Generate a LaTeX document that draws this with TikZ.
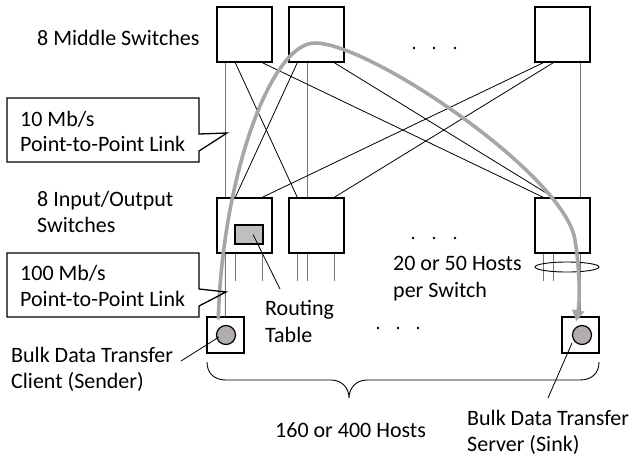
\documentclass[tikz,border=0pt]{standalone}
\usepackage{fontspec}
\setmainfont{Carlito}
\usetikzlibrary{calc,arrows.meta}
\definecolor{flowgray}{RGB}{166,166,166}
\definecolor{tablegray}{RGB}{191,191,191}
\definecolor{hostgray}{RGB}{178,174,174}
\definecolor{vgray}{RGB}{120,120,120}
\begin{document}
\begin{tikzpicture}[x=1pt,y=-1pt,
  switchbox/.style={draw,line width=1.4pt,minimum width=55pt,minimum height=55pt,inner sep=0pt},
  hostbox/.style={draw,line width=1.4pt,minimum width=37pt,minimum height=36pt,inner sep=0pt},
  hostdot/.style={draw,line width=1.2pt,fill=hostgray,circle,minimum size=19pt,inner sep=0pt},
  tablebox/.style={draw,line width=1.3pt,fill=tablegray,minimum width=28pt,minimum height=19pt,inner sep=0pt},
  lbl/.style={anchor=base west,inner sep=0pt,font=\fontsize{22}{26}\selectfont},
  diag/.style={draw,line width=0.8pt},
  vert/.style={draw,vgray,line width=1pt},
  callout/.style={draw,line width=1.3pt,line join=miter},
  pointer/.style={draw,line width=0.8pt},
  flow/.style={draw,flowgray,line width=3.6pt,-{Triangle[width=12pt,length=11pt]}}
]
\useasboundingbox (0,0) rectangle (634,459);

% switches
\node[switchbox] (m1) at (244.5,34.5) {};
\node[switchbox] (m2) at (316.5,34.5) {};
\node[switchbox] (m3) at (562.5,34.5) {};
\node[switchbox] (io1) at (244.5,225.5) {};
\node[switchbox] (io2) at (316.5,225.5) {};
\node[switchbox] (io3) at (562.5,225.5) {};

% middle-to-io links: port offsets 9,19,46
\path[vert] ($(m1.south west)+(9,0)$) -- ($(io1.north west)+(9,0)$);
\path[vert] ($(m2.south west)+(19,0)$) -- ($(io2.north west)+(19,0)$);
\path[vert] ($(m3.south west)+(46,0)$) -- ($(io3.north west)+(46,0)$);
\path[diag] ($(m1.south west)+(19,0)$) -- ($(io2.north west)+(9,0)$);
\path[diag] ($(m1.south west)+(46,0)$) -- ($(io3.north west)+(9,0)$);
\path[diag] ($(m2.south west)+(9,0)$) -- ($(io1.north west)+(19,0)$);
\path[diag] ($(m2.south west)+(46,0)$) -- ($(io3.north west)+(19,0)$);
\path[diag] ($(m3.south west)+(9,0)$) -- ($(io1.north west)+(46,0)$);
\path[diag] ($(m3.south west)+(19,0)$) -- ($(io2.north west)+(46,0)$);

% hosts
\node[hostbox] (h1) at (225.5,335) {};
\node[hostbox] (h2) at (580.5,335) {};
\node[hostdot] (c1) at (226,335) {};
\node[hostdot] (c2) at (582,335) {};

% stubs below io switches
\path[vert] ($(io1.south west)+(9,0)$) -- (h1.north);
\path[vert] ($(io1.south west)+(19,0)$) -- ++(0,27);
\path[vert] ($(io1.south west)+(46,0)$) -- ++(0,27);
\path[vert] ($(io2.south west)+(9,0)$) -- ++(0,27);
\path[vert] ($(io2.south west)+(19,0)$) -- ++(0,27);
\path[vert] ($(io2.south west)+(46,0)$) -- ++(0,27);
\path[vert] ($(io3.south west)+(9,0)$) -- ++(0,27);
\path[vert] ($(io3.south west)+(19,0)$) -- ++(0,27);
\path[vert] ($(io3.south west)+(46,0)$) -- ($(h2.north west)+(19,0)$);

% routing table
\node[tablebox] (rt) at (249,234.5) {};

% hosts-per-switch ellipse
\draw[line width=0.9pt] (567,267) ellipse (32 and 5);

% brace
\draw[line width=0.9pt] (207,362) .. controls (207,373) and (214,380) .. (226,380)
  -- (331,380) .. controls (342,380) and (349,388) .. (349,398)
  .. controls (349,388) and (356,380) .. (367,380)
  -- (580,380) .. controls (592,380) and (599,373) .. (599,362);

% data flow
\coordinate (fs) at ($(h1.north west)+(12,3)$);
\coordinate (fe) at ($(h2.north west)+(15,5)$);
\path[flow] (fs) .. controls (222,180) and (270,43) .. (315,43)
  .. controls (370,43) and (565,175) .. (575,240)
  .. controls (580,272) and (580,300) .. (fe);

% callouts
\coordinate (t10) at (227,133);
\coordinate (t100) at (226,292);
\path[callout] (7,98) -- (199,98) -- (199,134) -- (t10) -- (199,151) -- (199,162) -- (7,162) -- cycle;
\path[callout] (7,253) -- (199,253) -- (199,289) -- (t100) -- (199,306) -- (199,317) -- (7,317) -- cycle;

% labels
\node[lbl] (lmid) at (37,45) {8 Middle Switches};
\node[lbl] (l10a) at (20,126) {10 Mb/s};
\node[lbl] (l10b) at (20,151) {Point-to-Point Link};
\node[lbl] (lioa) at (37,206) {8 Input/Output};
\node[lbl] (liob) at (37,232) {Switches};
\node[lbl] (l100a) at (20,280) {100 Mb/s};
\node[lbl] (l100b) at (20,306) {Point-to-Point Link};
\node[lbl] (lrta) at (265,315) {Routing};
\node[lbl] (lrtb) at (265,342) {Table};
\node[lbl] (lhpa) at (393,270) {20 or 50 Hosts};
\node[lbl] (lhpb) at (393,297) {per Switch};
\node[lbl] (lcla) at (11,362) {Bulk Data Transfer};
\node[lbl] (lclb) at (11,388) {Client (Sender)};
\node[lbl] (lall) at (275,437) {160 or 400 Hosts};
\node[lbl] (lsva) at (467,425) {Bulk Data Transfer};
\node[lbl] (lsvb) at (467,451) {Server (Sink)};

% pointers
\coordinate (prt) at (280,289);
\coordinate (pcl) at (181,361);
\coordinate (psv) at (548,398);
\path[pointer] (rt.center) ++(4,0) -- (prt);
\path[pointer] ($(c1.center)+(-7,2)$) -- (pcl);
\path[pointer] ($(c2.center)+(-10,8)$) -- (psv);

% dots
\foreach \x in {414,434,455} \fill (\x,48) circle (1.4);
\foreach \x in {413,434,455} \fill (\x,238) circle (1.4);
\foreach \x in {378,398,418} \fill (\x,328) circle (1.4);
\end{tikzpicture}
\end{document}
